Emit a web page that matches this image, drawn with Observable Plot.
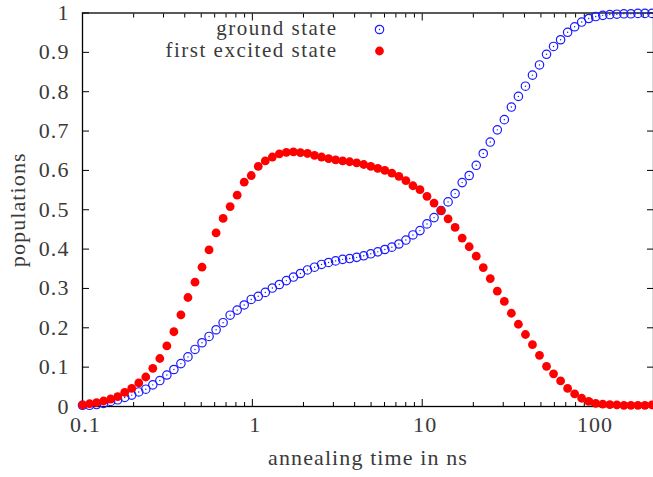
<!DOCTYPE html>
<html>
<head>
<meta charset="utf-8">
<script src="https://cdn.jsdelivr.net/npm/d3@7"></script>
<script src="https://cdn.jsdelivr.net/npm/@observablehq/plot@0.6"></script>
<style>
  html, body { margin: 0; padding: 0; background: #fff; }
  #chart svg text { letter-spacing: 1.1px; }
  #chart svg g.legend-text text { letter-spacing: 1.5px; }
</style>
</head>
<body>
<div id="chart"></div>
<script>
// annealing times in ns (log-spaced samples)
const times = [0.1, 0.11, 0.121, 0.1331, 0.1464, 0.1611, 0.1772, 0.1949, 0.2144, 0.2358,
  0.2594, 0.2853, 0.3138, 0.3452, 0.3797, 0.4177, 0.4595, 0.5054, 0.556, 0.6116,
  0.6727, 0.74, 0.814, 0.8954, 0.985, 1.083, 1.192, 1.311, 1.442, 1.586,
  1.745, 1.919, 2.111, 2.323, 2.555, 2.81, 3.091, 3.4, 3.74, 4.114,
  4.526, 4.979, 5.476, 6.024, 6.626, 7.289, 8.018, 8.82, 9.702, 10.67,
  11.74, 12.91, 14.2, 15.62, 17.19, 18.91, 20.8, 22.88, 25.16, 27.68,
  30.45, 33.49, 36.84, 40.53, 44.58, 49.04, 53.94, 59.33, 65.27, 71.8,
  78.97, 86.87, 95.56, 105.1, 115.6, 127.2, 139.9, 153.9, 169.3, 186.2,
  204.8, 225.3];

// ground state population
const ground = [0.003, 0.003, 0.005, 0.008, 0.013, 0.017, 0.023, 0.029, 0.037, 0.044,
  0.055, 0.066, 0.080, 0.094, 0.109, 0.126, 0.145, 0.162, 0.178, 0.195,
  0.213, 0.232, 0.245, 0.258, 0.272, 0.280, 0.290, 0.301, 0.310, 0.320,
  0.329, 0.338, 0.347, 0.354, 0.361, 0.366, 0.370, 0.374, 0.376, 0.379,
  0.383, 0.388, 0.393, 0.399, 0.405, 0.413, 0.423, 0.436, 0.447, 0.464,
  0.480, 0.498, 0.520, 0.541, 0.569, 0.587, 0.613, 0.643, 0.672, 0.703,
  0.729, 0.761, 0.788, 0.814, 0.842, 0.868, 0.895, 0.915, 0.932, 0.951,
  0.965, 0.977, 0.986, 0.991, 0.994, 0.996, 0.997, 0.998, 0.998, 0.999,
  0.999, 0.999];

// first excited state population
const excited = [0.004, 0.007, 0.010, 0.014, 0.019, 0.025, 0.036, 0.046, 0.060, 0.075,
  0.097, 0.122, 0.154, 0.190, 0.233, 0.277, 0.316, 0.354, 0.398, 0.441,
  0.478, 0.508, 0.537, 0.570, 0.587, 0.610, 0.624, 0.634, 0.642, 0.646,
  0.647, 0.645, 0.643, 0.638, 0.634, 0.630, 0.627, 0.624, 0.622, 0.619,
  0.615, 0.610, 0.605, 0.600, 0.593, 0.585, 0.574, 0.561, 0.551, 0.534,
  0.517, 0.498, 0.477, 0.455, 0.428, 0.406, 0.382, 0.353, 0.325, 0.293,
  0.267, 0.237, 0.209, 0.183, 0.157, 0.130, 0.102, 0.083, 0.065, 0.046,
  0.032, 0.021, 0.013, 0.008, 0.006, 0.005, 0.004, 0.003, 0.003, 0.003,
  0.003, 0.004];

const xMajor = [0.1, 1, 10, 100];
const xMinor = [0.2, 0.3, 0.4, 0.5, 0.6, 0.7, 0.8, 0.9,
  2, 3, 4, 5, 6, 7, 8, 9, 20, 30, 40, 50, 60, 70, 80, 90, 200];
const xTickLabels = ["0.1", "1", "10", "100"];
const yTicks = [0, 0.1, 0.2, 0.3, 0.4, 0.5, 0.6, 0.7, 0.8, 0.9, 1];
const yTickLabels = ["0", "0.1", "0.2", "0.3", "0.4", "0.5", "0.6", "0.7", "0.8", "0.9", "1"];
const seriesNames = ["ground state", "first excited state"];
const xTitle = "annealing time in ns";
const yTitle = "populations";

const data = times.map((t, i) => ({t, g: ground[i], e: excited[i]}));
const xLabelData = xMajor.map((v, i) => ({v, label: xTickLabels[i]}));
const yLabelData = yTicks.map((v, i) => ({v, label: yTickLabels[i]}));

const blue = "#1a1aff";
const red = "#ff0000";
const txt = "#3a3a3a";

const chart = Plot.plot({
  width: 653,
  height: 477,
  marginLeft: 82,
  marginRight: 0,
  marginTop: 12.5,
  marginBottom: 71,
  style: {fontFamily: "'Liberation Serif', 'DejaVu Serif', serif", fontSize: "22px", color: txt, background: "#fff"},
  x: {type: "log", domain: [0.1, 230], axis: null},
  y: {domain: [0, 1], axis: null},
  marks: [
    // tick marks, pointing inward on all four sides
    Plot.axisX({anchor: "bottom", ticks: xMajor, tickSize: -7, tickFormat: () => "", label: null, stroke: "black"}),
    Plot.axisX({anchor: "bottom", ticks: xMinor, tickSize: -4, tickFormat: () => "", label: null, stroke: "black"}),
    Plot.axisX({anchor: "top", ticks: xMajor, tickSize: -7, tickFormat: () => "", label: null, stroke: "black"}),
    Plot.axisX({anchor: "top", ticks: xMinor, tickSize: -4, tickFormat: () => "", label: null, stroke: "black"}),
    Plot.axisY({anchor: "left", ticks: yTicks, tickSize: -7, tickFormat: () => "", label: null, stroke: "black"}),
    Plot.axisY({anchor: "right", ticks: yTicks, tickSize: -7, tickFormat: () => "", label: null, stroke: "black"}),
    // tick labels
    Plot.text(xLabelData, {x: "v", text: "label", frameAnchor: "bottom", dy: 18, dx: 3,
      textAnchor: "middle", lineAnchor: "middle", fill: txt}),
    Plot.text(yLabelData, {y: "v", text: "label", frameAnchor: "left", dx: -13,
      textAnchor: "end", lineAnchor: "middle", fill: txt}),
    // axis titles
    Plot.text([xTitle], {text: d => d, frameAnchor: "bottom", dy: 51, fill: txt,
      textAnchor: "middle", lineAnchor: "middle"}),
    Plot.text([yTitle], {text: d => d, frameAnchor: "left", dx: -65, rotate: -90, fill: txt,
      textAnchor: "middle", lineAnchor: "middle"}),
    Plot.frame({stroke: "black", strokeWidth: 1.3}),
    // data
    Plot.dot(data, {x: "t", y: "g", r: 4.2, stroke: blue, strokeWidth: 1.2, fill: "none"}),
    Plot.dot(data, {x: "t", y: "g", r: 0.7, fill: blue, stroke: "none"}),
    Plot.dot(data, {x: "t", y: "e", r: 4.4, fill: red, stroke: "none"}),
    // legend
    Plot.text([seriesNames[0]], {text: d => d, frameAnchor: "top-left", dx: 255, dy: 15, textAnchor: "end",
      lineAnchor: "middle", fill: txt, fontSize: 21, className: "legend-text"}),
    Plot.text([seriesNames[1]], {text: d => d, frameAnchor: "top-left", dx: 255, dy: 37, textAnchor: "end",
      lineAnchor: "middle", fill: txt, fontSize: 21, className: "legend-text"}),
    Plot.dot([seriesNames[0]], {frameAnchor: "top-left", dx: 297, dy: 16.5, r: 4.2, stroke: blue, strokeWidth: 1.2, fill: "none"}),
    Plot.dot([seriesNames[0]], {frameAnchor: "top-left", dx: 297, dy: 16.5, r: 0.7, fill: blue, stroke: "none"}),
    Plot.dot([seriesNames[1]], {frameAnchor: "top-left", dx: 297, dy: 38, r: 4.4, fill: red, stroke: "none"})
  ]
});
document.getElementById("chart").appendChild(chart);
</script>
</body>
</html>
